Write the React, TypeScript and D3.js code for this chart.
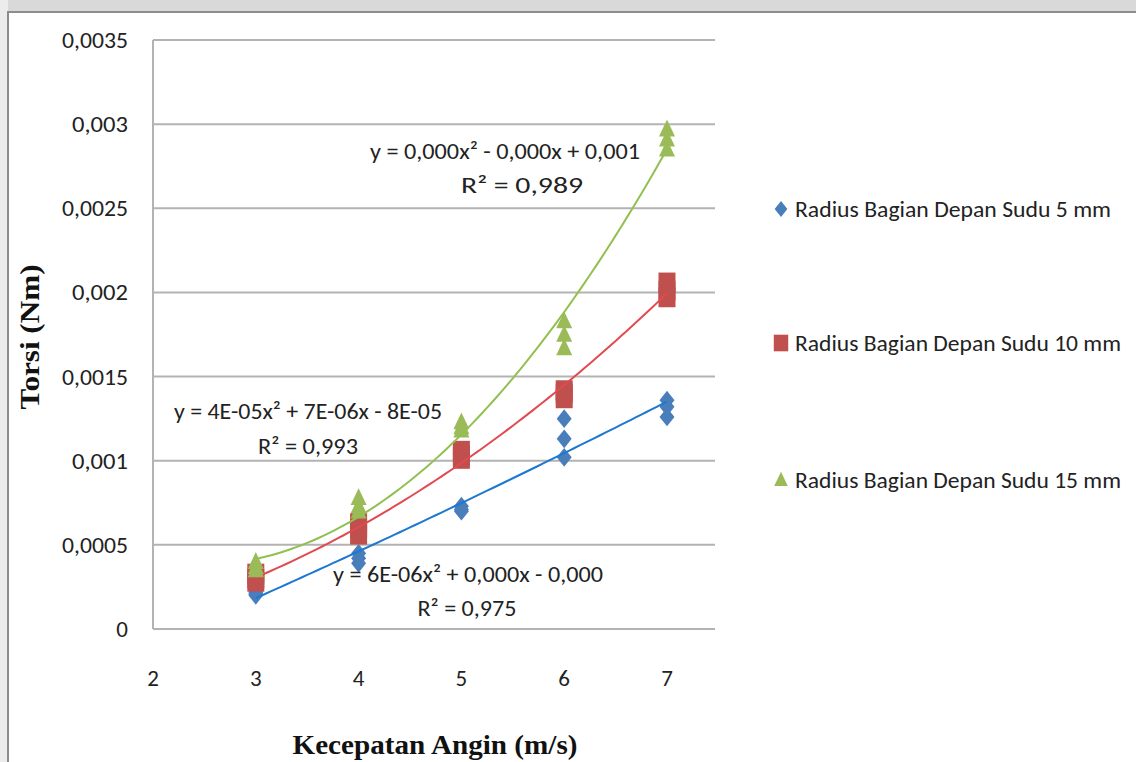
import React from 'react';
import * as d3 from 'd3';

// wind speed (m/s) and three repeated torque readings per speed (Nm)
const speeds = [3, 4, 5, 6, 7];
const torque5mm = [
  [0.00022, 0.0002, 0.00021],
  [0.00045, 0.00042, 0.00039],
  [0.00073, 0.00071, 0.0007],
  [0.00125, 0.00113, 0.00102],
  [0.00136, 0.00132, 0.00126],
];
const torque10mm = [
  [0.00033, 0.0003, 0.00028],
  [0.00063, 0.0006, 0.00056],
  [0.00106, 0.00103, 0.00101],
  [0.00142, 0.0014, 0.00137],
  [0.00206, 0.00201, 0.00197],
];
const torque15mm = [
  [0.0004, 0.00037, 0.00035],
  [0.00078, 0.00073, 0.0007],
  [0.00123, 0.0012, 0.00118],
  [0.00183, 0.00175, 0.00167],
  [0.00297, 0.00291, 0.00285],
];
const seriesNames = [
  'Radius Bagian Depan Sudu 5 mm',
  'Radius Bagian Depan Sudu 10 mm',
  'Radius Bagian Depan Sudu 15 mm',
];
const yTicks = [0, 0.0005, 0.001, 0.0015, 0.002, 0.0025, 0.003, 0.0035];
const xTicks = [2, 3, 4, 5, 6, 7];
const equations = [
  'y = 6E-06x² + 0,000x - 0,000',
  'y = 4E-05x² + 7E-06x - 8E-05',
  'y = 0,000x² - 0,000x + 0,001',
];
const rSquared = ['R² = 0,975', 'R² = 0,993', 'R² = 0,989'];

const W = 1136;
const H = 762;
const plot = { left: 153, top: 40, right: 715, bottom: 629 };
const font = "Carlito, 'Liberation Sans Narrow', 'Open Sans', sans-serif";
const serif = "'Liberation Serif', 'DejaVu Serif', serif";

const x = d3.scaleLinear().domain([2, 7]).range([plot.left, 667]);
const y = d3.scaleLinear().domain([0, 0.0035]).range([plot.bottom, plot.top]);

// least squares fit y = a x^2 + b x + c, like Excel's polynomial trendline
function quadFit(pts: [number, number][]) {
  const s = (f: (p: [number, number]) => number) => d3.sum(pts, f);
  const n = pts.length;
  const sx = s(p => p[0]), sx2 = s(p => p[0] ** 2), sx3 = s(p => p[0] ** 3), sx4 = s(p => p[0] ** 4);
  const sy = s(p => p[1]), sxy = s(p => p[0] * p[1]), sx2y = s(p => p[0] ** 2 * p[1]);
  const M = [
    [sx4, sx3, sx2, sx2y],
    [sx3, sx2, sx, sxy],
    [sx2, sx, n, sy],
  ];
  for (let i = 0; i < 3; i++) {
    for (let k = i + 1; k < 3; k++) {
      const f = M[k][i] / M[i][i];
      for (let j = i; j < 4; j++) M[k][j] -= f * M[i][j];
    }
  }
  const r = [0, 0, 0];
  for (let i = 2; i >= 0; i--) {
    let v = M[i][3];
    for (let j = i + 1; j < 3; j++) v -= M[i][j] * r[j];
    r[i] = v / M[i][i];
  }
  return r;
}

const diamond = (s: number) => `M0,${-s * 1.25}L${s},0L0,${s * 1.25}L${-s},0Z`;
const square = (s: number) => `M${-s},${-s * 1.15}H${s}V${s * 1.15}H${-s}Z`;
const triangle = (s: number) => `M0,${-s * 1.2}L${s},${s * 0.9}H${-s}Z`;

const series = [
  { name: seriesNames[0], values: torque5mm, fill: '#4a7ebb', line: '#1f78d0', shape: diamond(7.5) },
  { name: seriesNames[1], values: torque10mm, fill: '#c0504d', line: '#e04a50', shape: square(8.5) },
  { name: seriesNames[2], values: torque15mm, fill: '#9bbb59', line: '#92c050', shape: triangle(8) },
];

const labelPos = [
  { eq: [468, 582], r2: [467, 616], eqW: 270, r2W: 99 },
  { eq: [308, 419], r2: [308, 454], eqW: 268, r2W: 100 },
  { eq: [505, 159], r2: [522, 193], eqW: 270, r2W: 122 },
];

const legendY = [209, 343, 480];

export default function App() {
  const curve = d3.range(3, 7.0001, 0.05);
  return (
    <svg width={W} height={H} style={{ position: 'absolute', left: 0, top: 0, background: '#fff' }}>
      <rect x={0} y={0} width={W} height={12} fill="#d9d9d9" />
      <rect x={0} y={0} width={8} height={H} fill="#ececec" />
      <path d={`M8,${H}V12H${W}`} fill="none" stroke="#8c8c8c" strokeWidth={2} />

      {yTicks.map(t => (
        <g key={t}>
          <line x1={plot.left} x2={plot.right} y1={y(t)} y2={y(t)} stroke="#b3b3b3" strokeWidth={2} />
          <text x={128} y={y(t) + 8} textAnchor="end" fontFamily={font} fontSize={23} fill="#222"
            textLength={t === 0 ? undefined : t === 0.001 || t === 0.002 || t === 0.003 ? 56 : 66} lengthAdjust="spacingAndGlyphs">
            {t === 0 ? '0' : d3.format('.4~f')(t).replace('.', ',')}
          </text>
        </g>
      ))}
      <line x1={plot.left} x2={plot.left} y1={plot.top} y2={plot.bottom} stroke="#b3b3b3" strokeWidth={2} />
      {xTicks.map(t => (
        <text key={t} x={x(t)} y={686} textAnchor="middle" fontFamily={font} fontSize={23} fill="#222">
          {t}
        </text>
      ))}

      {series.map((s, i) => {
        const pts: [number, number][] = speeds.flatMap((sp, k) => s.values[k].map(v => [sp, v] as [number, number]));
        const [a, b, c] = quadFit(pts);
        const path = d3.line<number>().x(d => x(d)).y(d => y(a * d * d + b * d + c))(curve) || '';
        return (
          <g key={s.name}>
            {pts.map((p, k) => (
              <path key={k} d={s.shape} transform={`translate(${x(p[0])},${y(p[1])})`} fill={s.fill} />
            ))}
            <path d={path} fill="none" stroke={s.line} strokeWidth={2} />
          </g>
        );
      })}

      {series.map((s, i) => (
        <g key={'lab' + i} fontFamily={font} fontSize={23} fill="#222" textAnchor="middle">
          <text x={labelPos[i].eq[0]} y={labelPos[i].eq[1]} textLength={labelPos[i].eqW} lengthAdjust="spacingAndGlyphs">
            {equations[i]}
          </text>
          <text x={labelPos[i].r2[0]} y={labelPos[i].r2[1]} textLength={labelPos[i].r2W} lengthAdjust="spacingAndGlyphs">
            {rSquared[i]}
          </text>
        </g>
      ))}

      {series.map((s, i) => (
        <g key={'leg' + i}>
          <path d={s.shape} transform={`translate(781,${legendY[i]}) scale(0.85)`} fill={s.fill} />
          <text x={795} y={legendY[i] + 8} fontFamily={font} fontSize={22} fill="#222" textLength={i === 0 ? 316 : 326} lengthAdjust="spacingAndGlyphs">
            {s.name}
          </text>
        </g>
      ))}

      <text transform="translate(39,337) rotate(-90)" textAnchor="middle" fontFamily={serif} fontWeight="bold" fontSize={27} fill="#111" textLength={145} lengthAdjust="spacingAndGlyphs">
        Torsi (Nm)
      </text>
      <text x={435} y={754} textAnchor="middle" fontFamily={serif} fontWeight="bold" fontSize={27} fill="#111" textLength={285} lengthAdjust="spacingAndGlyphs">
        Kecepatan Angin (m/s)
      </text>
    </svg>
  );
}
